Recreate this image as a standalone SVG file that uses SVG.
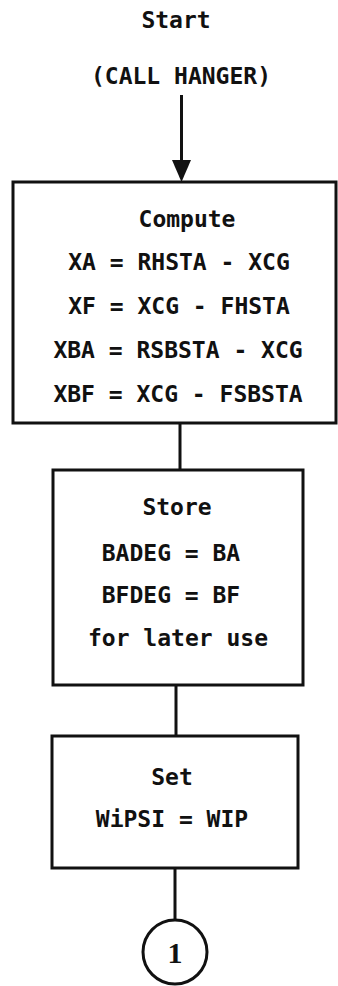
<svg xmlns="http://www.w3.org/2000/svg" width="338" height="986" viewBox="0 0 338 986">
<style>
.t{font-family:"DejaVu Sans Mono","Liberation Mono",monospace;font-size:23px;font-weight:bold;fill:#111;text-anchor:middle}
.b{fill:#fff;stroke:#111;stroke-width:3}
.c{stroke:#111;stroke-width:3;fill:none}
</style>
<rect width="338" height="986" fill="#fff"/>
<g id="start">
<text class="t" x="176" y="28">Start</text>
<text class="t" x="181" y="84">(CALL HANGER)</text>
</g>
<g id="connectors">
<line class="c" x1="181.5" y1="95" x2="181.5" y2="162"/>
<polygon points="172,160 191,160 181.5,182" fill="#111"/>
<line class="c" x1="180" y1="423" x2="180" y2="470"/>
<line class="c" x1="176" y1="685" x2="176" y2="736"/>
<line class="c" x1="175" y1="868" x2="175" y2="919"/>
</g>
<g id="compute">
<rect class="b" x="13" y="182" width="323" height="241"/>
<text class="t" x="187" y="227">Compute</text>
<text class="t" x="179" y="270">XA = RHSTA - XCG</text>
<text class="t" x="179" y="314">XF = XCG - FHSTA</text>
<text class="t" x="178" y="358">XBA = RSBSTA - XCG</text>
<text class="t" x="178" y="402">XBF = XCG - FSBSTA</text>
</g>
<g id="store">
<rect class="b" x="53" y="470" width="250" height="215"/>
<text class="t" x="177" y="515">Store</text>
<text class="t" x="171" y="561">BADEG = BA</text>
<text class="t" x="171" y="603">BFDEG = BF</text>
<text class="t" x="178" y="646">for later use</text>
</g>
<g id="set">
<rect class="b" x="52" y="736" width="246" height="132"/>
<text class="t" x="172" y="785">Set</text>
<text class="t" x="172" y="827">WiPSI = WIP</text>
</g>
<g id="connector1">
<circle class="b" cx="175" cy="952" r="32"/>
<text class="t" x="175" y="963" style="font-size:30px;font-family:'Liberation Serif',serif">1</text>
</g>
</svg>
